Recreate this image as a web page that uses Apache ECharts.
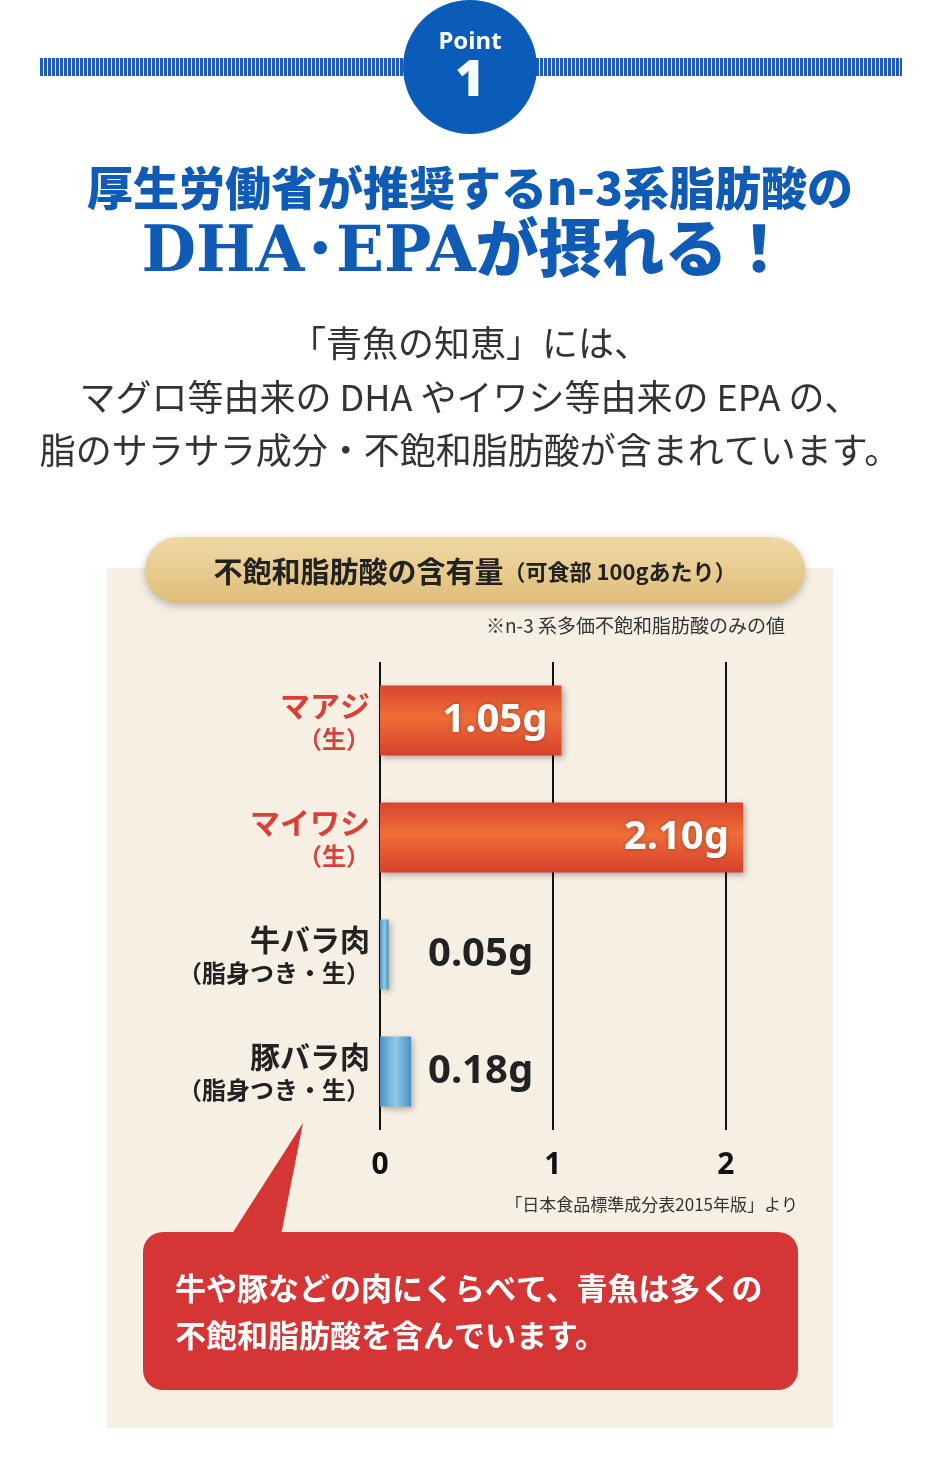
<!DOCTYPE html><html><head><meta charset="utf-8">
<script src="https://cdn.jsdelivr.net/npm/echarts@6/dist/echarts.min.js"></script>
<style>html,body{margin:0;padding:0;background:#fff}#c{width:940px;height:1460px}</style></head><body><div id="c"></div>
<script>
const categories=['マアジ|（生）','マイワシ|（生）','牛バラ肉|（脂身つき・生）','豚バラ肉|（脂身つき・生）'];
const values=[1.05,2.10,0.05,0.18];
const valueLabels=['1.05g','2.10g','0.05g','0.18g'];
const fishFlags=[true,true,false,false];
const tickValues=[0,1,2];

const cv=document.createElement('canvas');cv.width=4;cv.height=18;
const cx=cv.getContext('2d');cx.fillStyle='#e9eef8';cx.fillRect(0,0,4,18);cx.fillStyle='#1d5cb4';cx.fillRect(0,0,3,18);

const jp='"Noto Sans CJK JP", sans-serif';
const redG={type:'linear',x:0,y:0,x2:0,y2:1,colorStops:[{offset:0,color:'#d9452f'},{offset:0.45,color:'#ee6e37'},{offset:1,color:'#d8402c'}]};
const blueG={type:'linear',x:0,y:0,x2:1,y2:0,colorStops:[{offset:0,color:'#4d8fc6'},{offset:0.5,color:'#8fcbe3'},{offset:1,color:'#4d8fc6'}]};

const chart=echarts.init(document.getElementById('c'),null,{renderer:'canvas'});
chart.setOption({
 backgroundColor:'#fff',animation:false,
 graphic:[
  {type:'rect',shape:{x:40,y:58,width:862,height:18},style:{fill:{image:cv,repeat:'repeat'}}},
  {type:'circle',shape:{cx:470,cy:67,r:67},style:{fill:'#0b5bb8'}},
  {type:'text',x:470,y:42,style:{text:'Point',fill:'#fff',font:'bold 24px "Noto Sans", sans-serif',align:'center',verticalAlign:'middle'}},
  {type:'text',x:470,y:82,style:{text:'1',fill:'#fff',font:'900 50px "Noto Sans", sans-serif',align:'center',verticalAlign:'middle'}},
  {type:'text',x:470,y:188,style:{text:'厚生労働省が推奨するn-3系脂肪酸の',fill:'#0f5bb5',font:'900 46px '+jp,align:'center',verticalAlign:'middle'}},
  {type:'text',x:466,y:255,style:{text:'DHA･EPAが摂れる！',fill:'#0f5bb5',font:'900 63px "DejaVu Serif", "Noto Sans CJK JP", serif',align:'center',verticalAlign:'middle'}},
  {type:'text',x:470,y:343,style:{text:'「青魚の知恵」には、',fill:'#333',font:'36px '+jp,align:'center',verticalAlign:'middle'}},
  {type:'text',x:470,y:397,style:{text:'マグロ等由来の DHA やイワシ等由来の EPA の、',fill:'#333',font:'36px '+jp,align:'center',verticalAlign:'middle'}},
  {type:'text',x:470,y:450,style:{text:'脂のサラサラ成分・不飽和脂肪酸が含まれています。',fill:'#333',font:'36px '+jp,align:'center',verticalAlign:'middle'}},
  {type:'rect',z:-10,shape:{x:107,y:568,width:726,height:860},style:{fill:'#f6efe3'}},
  {type:'rect',shape:{x:145,y:537,width:660,height:66,r:33},style:{fill:{type:'linear',x:0,y:0,x2:0,y2:1,colorStops:[{offset:0,color:'#f0d9a6'},{offset:1,color:'#dfbd7a'}]},shadowBlur:8,shadowColor:'rgba(0,0,0,0.25)',shadowOffsetY:3}},
  {type:'text',x:475,y:572,style:{rich:{a:{font:'bold 29px '+jp,fill:'#222'},b:{font:'bold 22px '+jp,fill:'#222'}},text:'{a|不飽和脂肪酸の含有量}{b|（可食部 100gあたり）}',align:'center',verticalAlign:'middle'}},
  {type:'text',x:785,y:626,style:{text:'※n-3 系多価不飽和脂肪酸のみの値',fill:'#333',font:'19px '+jp,align:'right',verticalAlign:'middle'}},
  {type:'text',x:798,y:1205,style:{text:'「日本食品標準成分表2015年版」より',fill:'#333',font:'17px '+jp,align:'right',verticalAlign:'middle'}},
  {type:'polygon',shape:{points:[[228,1240],[280,1240],[303,1123]]},style:{fill:'#d63535'}},
  {type:'rect',shape:{x:143,y:1232,width:655,height:158,r:20},style:{fill:'#d63535'}},
  {type:'text',x:175,y:1288,style:{text:'牛や豚などの肉にくらべて、青魚は多くの',fill:'#fff',font:'bold 31px '+jp,verticalAlign:'middle'}},
  {type:'text',x:175,y:1335,style:{text:'不飽和脂肪酸を含んでいます。',fill:'#fff',font:'bold 31px '+jp,verticalAlign:'middle'}}
 ],
 grid:{left:380,top:662,width:363,height:468},
 xAxis:{type:'value',min:0,max:2.1,interval:1,splitLine:{show:false},axisLine:{show:false},axisTick:{show:false},
  axisLabel:{show:false}},
 yAxis:{type:'category',inverse:true,data:categories,axisLine:{show:false},axisTick:{show:false},
  axisLabel:{margin:10,align:'right',formatter:(v,i)=>{const p=v.split('|');const k=fishFlags[i]?'r':'d';return '{'+k+'1|'+p[0]+'}\n{'+k+'2|'+p[1]+'}';},
   rich:{r1:{color:'#d9403a',fontSize:30,fontWeight:'bold',fontFamily:jp,align:'right',lineHeight:36},r2:{color:'#d9403a',fontSize:24,fontWeight:'bold',fontFamily:jp,align:'right',lineHeight:30},
         d1:{color:'#222',fontSize:30,fontWeight:'bold',fontFamily:jp,align:'right',lineHeight:36},d2:{color:'#222',fontSize:24,fontWeight:'bold',fontFamily:jp,align:'right',lineHeight:30}}}},
 series:[{type:'bar',barWidth:70,
  data:values.map((v,i)=>({value:v,itemStyle:{color:fishFlags[i]?redG:blueG,shadowBlur:6,shadowColor:'rgba(0,0,0,0.3)',shadowOffsetX:2,shadowOffsetY:2},
   label:fishFlags[i]?{show:true,position:'insideRight',distance:14,color:'#fff',fontSize:40,fontWeight:'bold',fontFamily:'"Noto Sans", sans-serif',formatter:valueLabels[i],textShadowColor:'rgba(0,0,0,0.3)',textShadowBlur:4}
     :{show:true,position:'insideLeft',offset:[43,0],color:'#222',fontSize:40,fontWeight:'bold',fontFamily:'"Noto Sans", sans-serif',formatter:valueLabels[i]}})),
  markLine:{symbol:'none',silent:true,z:1,lineStyle:{color:'#111',width:2,type:'solid'},
   label:{show:true,position:'end',distance:20,color:'#111',fontSize:30,fontWeight:'bold',fontFamily:'"Noto Sans", sans-serif',formatter:p=>String(p.value)},
   data:tickValues.map(t=>({xAxis:t}))}
 }]
});
</script></body></html>
